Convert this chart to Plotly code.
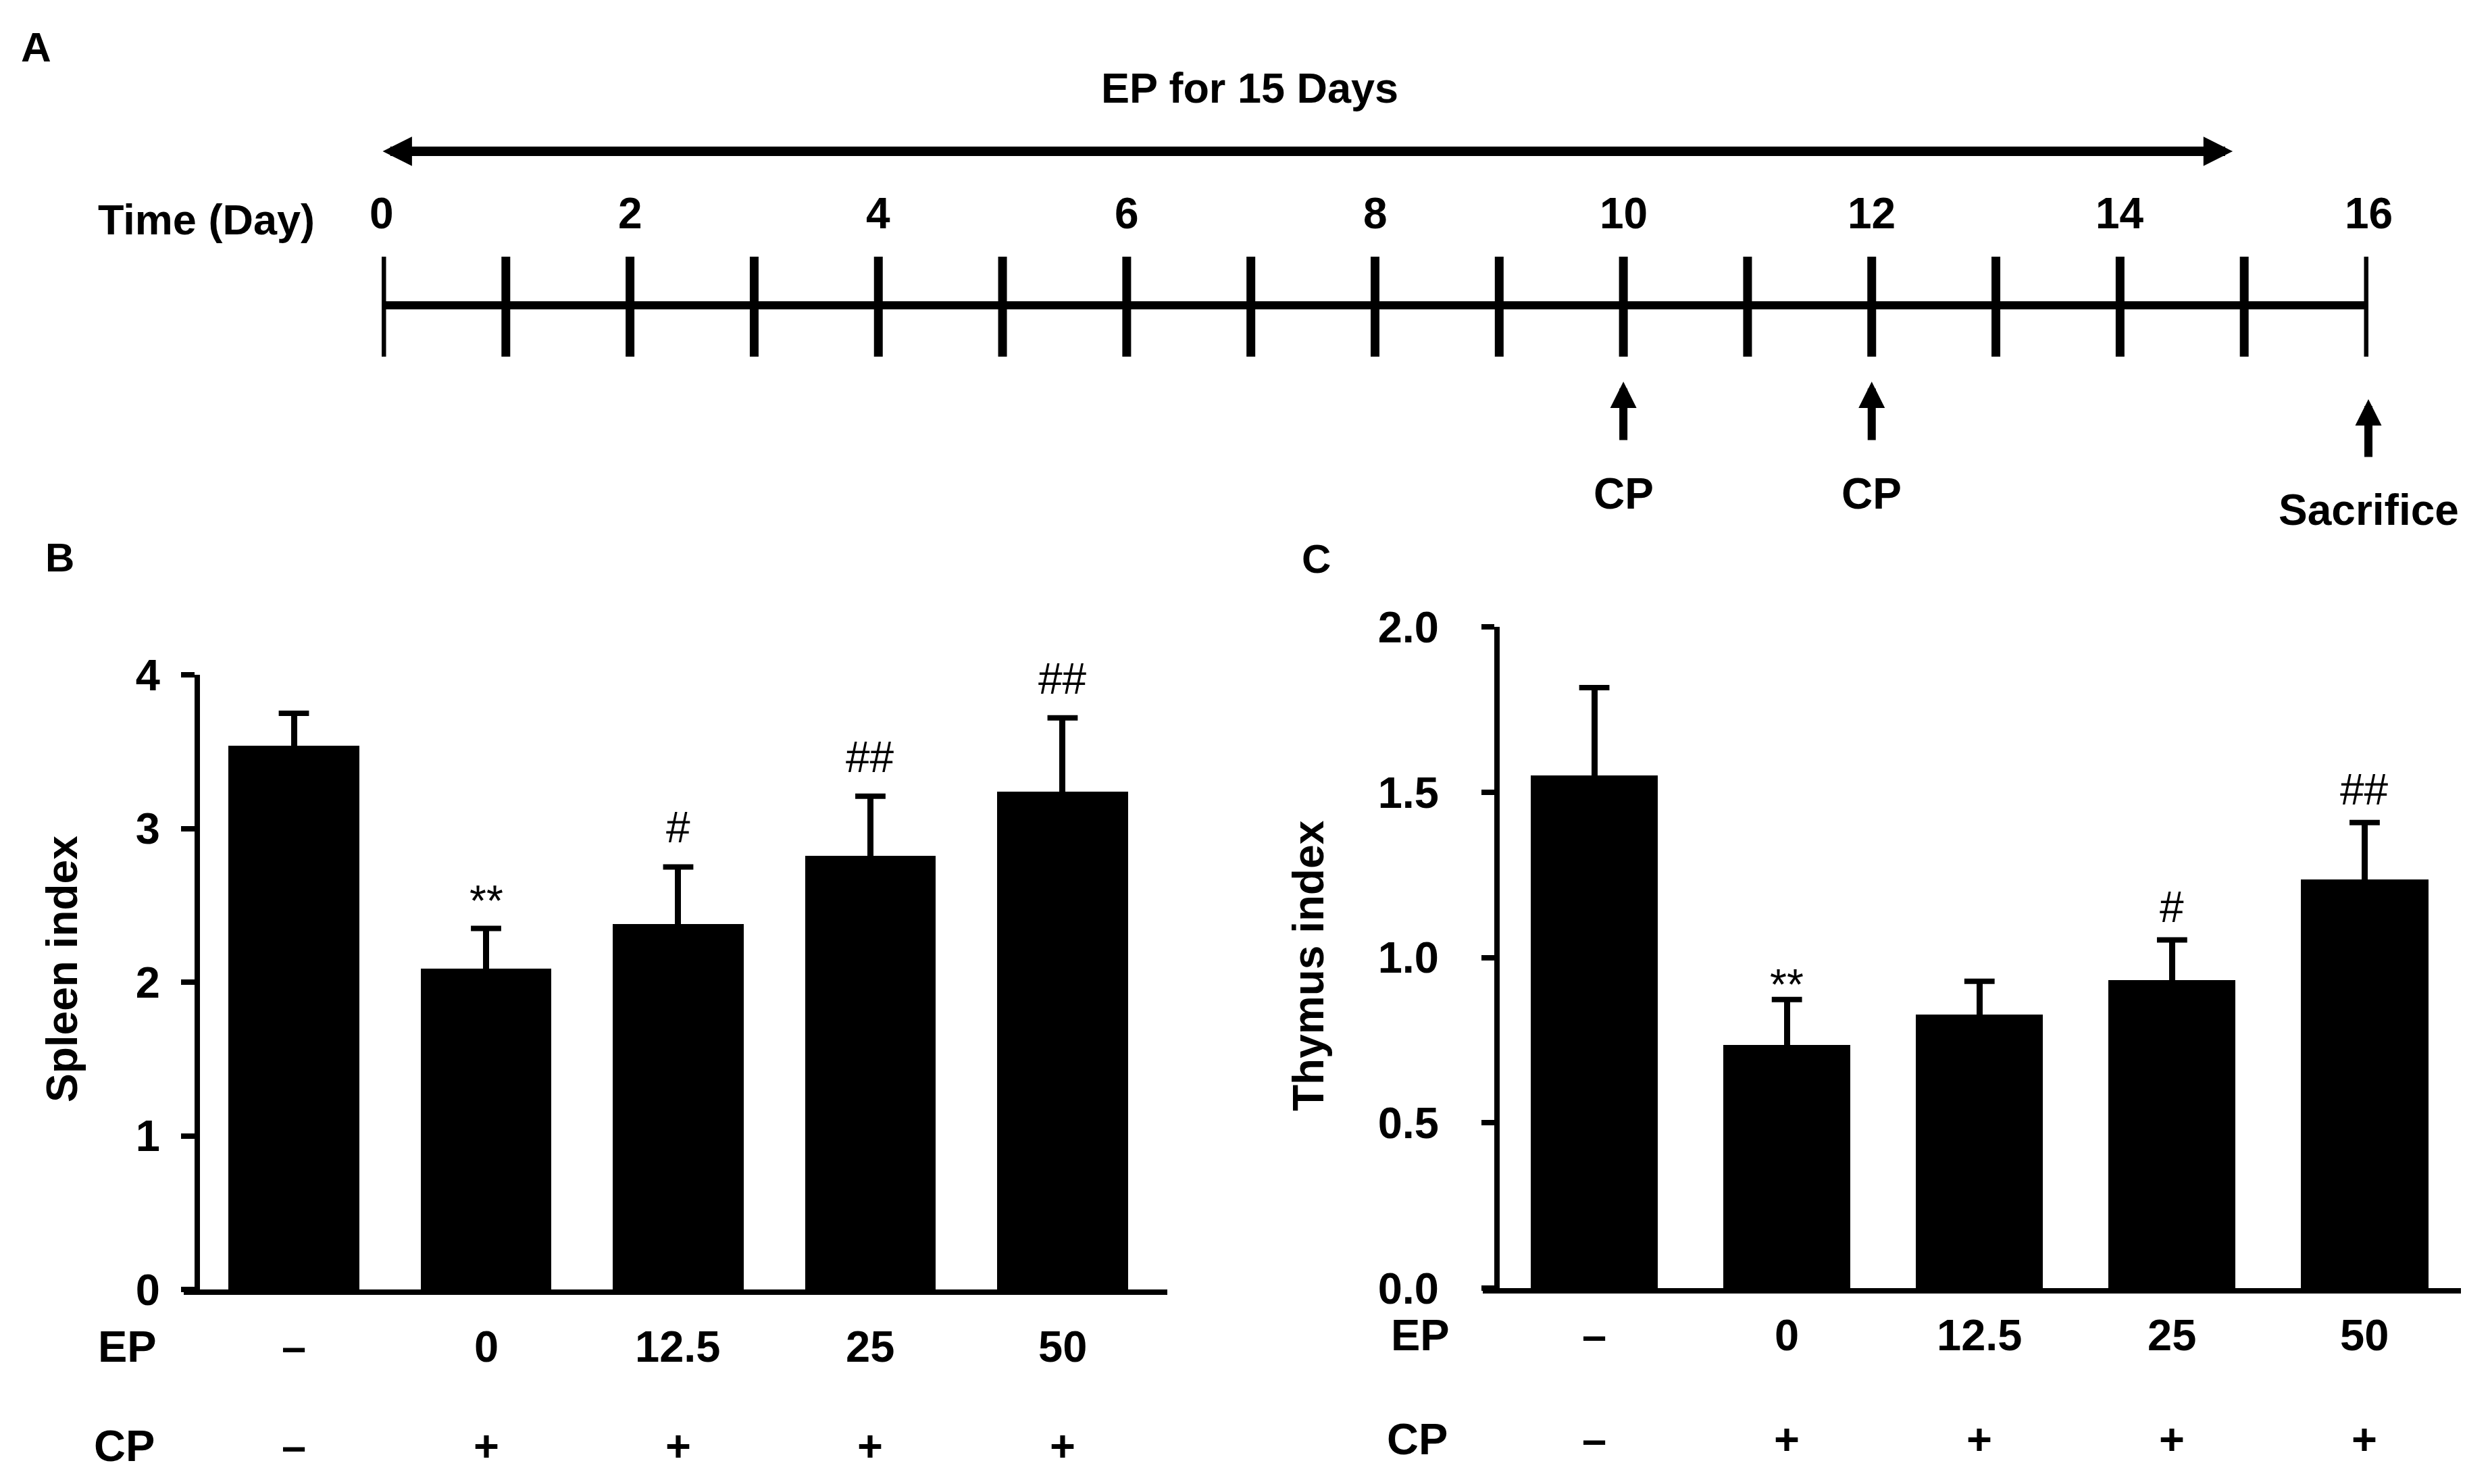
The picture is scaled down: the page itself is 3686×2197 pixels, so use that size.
import plotly.graph_objects as go

# ---------------- data ----------------
ep_doses = ["–", "0", "12.5", "25", "50"]
cp_given = ["–", "+", "+", "+", "+"]
spleen_mean = [3.54, 2.09, 2.38, 2.82, 3.24]
spleen_err = [0.21, 0.26, 0.37, 0.39, 0.48]
spleen_sig = ["", "**", "#", "##", "##"]
thymus_mean = [1.55, 0.735, 0.827, 0.932, 1.235]
thymus_err = [0.266, 0.138, 0.101, 0.121, 0.173]
thymus_sig = ["", "**", "", "#", "##"]
spleen_ticks = [0, 1, 2, 3, 4]
thymus_ticks = [0.0, 0.5, 1.0, 1.5, 2.0]
thymus_ticktext = ["0.0", "0.5", "1.0", "1.5", "2.0"]

days = list(range(17))
day_labels = [0, 2, 4, 6, 8, 10, 12, 14, 16]
ep_period = [0, 15]
cp_days = [10, 12]
sacrifice_day = 16

# ---------------- layout helpers ----------------
W, H = 3686, 2197
FONT = "Liberation Sans, Arial, sans-serif"


def px(p):
    return p / W


def py(p):
    return 1 - p / H


idx = list(range(len(ep_doses)))
fig = go.Figure()

# ---------------- panel A: timeline ----------------
fig.add_trace(go.Scatter(x=[days[0], days[-1]], y=[452, 452], mode="lines",
                         line=dict(color="black", width=12),
                         xaxis="x3", yaxis="y3", hoverinfo="skip", showlegend=False))
tx, ty = [], []
for d in days:
    tx += [d, d, None]
    ty += [380, 528, None]
fig.add_trace(go.Scatter(x=tx, y=ty, mode="lines", line=dict(color="black", width=13),
                         xaxis="x3", yaxis="y3", hoverinfo="skip", showlegend=False))


# ---------------- panels B, C: bars ----------------
def bar_panel(mean, err, width, xa, ya):
    fig.add_trace(go.Bar(x=idx, y=mean, width=width,
                         marker=dict(color="black", line=dict(width=0)),
                         error_y=dict(type="data", array=err, arrayminus=[0] * len(err),
                                      symmetric=False, thickness=9, width=0, color="black"),
                         xaxis=xa, yaxis=ya, showlegend=False, hoverinfo="skip"))
    tops = [m + e for m, e in zip(mean, err)]
    fig.add_trace(go.Scatter(x=idx, y=tops, mode="markers",
                             marker=dict(symbol="line-ew", size=32,
                                         line=dict(width=8, color="black"), color="black"),
                             xaxis=xa, yaxis=ya, showlegend=False, hoverinfo="skip",
                             cliponaxis=False))


bar_panel(spleen_mean, spleen_err, 0.68, "x", "y")
bar_panel(thymus_mean, thymus_err, 0.66, "x2", "y2")

bold = dict(family=FONT, size=63, color="black", weight="bold")
bold66 = dict(bold, size=65)
ann = []


def text(t, x, y, xref="paper", yref="paper", font=bold, **kw):
    d = dict(text=t, x=x, y=y, xref=xref, yref=yref, showarrow=False, font=font,
             xanchor="center", yanchor="middle")
    d.update(kw)
    ann.append(d)


# Panel labels
text("A", px(53), py(69), font=dict(bold, size=62))
text("B", px(88), py(825), font=dict(bold, size=60))
text("C", px(1948), py(827), font=dict(bold, size=60))

# Timeline text
text("EP for 15 Days", px(1850), py(130))
text("Time (Day)", px(305), py(325))
for d in day_labels:
    text(str(d), d, 316, xref="x3", yref="y3", font=dict(bold, size=64))

# EP double arrow
ann.append(dict(x=ep_period[1], y=224, ax=ep_period[0], ay=224, xref="x3", yref="y3",
                axref="x3", ayref="y3", text="", showarrow=True, arrowside="end+start",
                arrowhead=2, startarrowhead=2, arrowwidth=14, arrowsize=0.62,
                startarrowsize=0.62, arrowcolor="black", standoff=17, startstandoff=0))
# CP arrows
for d in cp_days:
    ann.append(dict(x=d, y=565, ax=d, ay=653, xref="x3", yref="y3", axref="x3", ayref="y3",
                    text="", showarrow=True, arrowhead=2, arrowwidth=12, arrowsize=0.65,
                    arrowcolor="black"))
    text("CP", d, 731, xref="x3", yref="y3", font=dict(bold, size=64))
ann.append(dict(x=sacrifice_day, y=591, ax=sacrifice_day, ay=678, xref="x3", yref="y3",
                axref="x3", ayref="y3", text="", showarrow=True, arrowhead=2, arrowwidth=12,
                arrowsize=0.65, arrowcolor="black"))
text("Sacrifice", sacrifice_day, 755, xref="x3", yref="y3", font=dict(bold, size=64))

# Y titles
text("Spleen index", px(92), py(1435), textangle=-90, font=dict(bold, size=64))
text("Thymus index", px(1937), py(1430), textangle=-90, font=dict(bold, size=64))

# EP / CP rows
text("EP", px(188), py(1993), font=bold66)
text("CP", px(184), py(2140), font=bold66)
text("EP", px(2102), py(1976), font=bold66)
text("CP", px(2098), py(2130), font=bold66)
for i in idx:
    text(ep_doses[i], i, py(1993), xref="x", font=bold66)
    text(cp_given[i], i, py(2140), xref="x", font=bold66)
    text(ep_doses[i], i, py(1976), xref="x2", font=bold66)
    text(cp_given[i], i, py(2130), xref="x2", font=bold66)

# significance marks
sigfont = dict(family=FONT, size=64, color="black")
shiftB = {"**": 40, "#": 58, "##": 58}
shiftC = {"**": 22, "#": 49, "##": 49}
for i in idx:
    if spleen_sig[i]:
        text(spleen_sig[i], i, spleen_mean[i] + spleen_err[i], xref="x", yref="y",
             font=sigfont, yshift=shiftB[spleen_sig[i]])
    if thymus_sig[i]:
        text(thymus_sig[i], i, thymus_mean[i] + thymus_err[i], xref="x2", yref="y2",
             font=sigfont, yshift=shiftC[thymus_sig[i]])

tickfont = dict(family=FONT, size=65, color="black", weight="bold")

fig.update_layout(
    width=W, height=H, margin=dict(l=0, r=0, t=0, b=0, autoexpand=False),
    paper_bgcolor="white", plot_bgcolor="white",
    font=dict(family=FONT, color="black"),
    bargap=0, annotations=ann,
    xaxis=dict(domain=[px(272), px(1728)], range=[-0.573, 4.545], showline=True, linewidth=8,
               linecolor="black", showticklabels=False, ticks="", showgrid=False, zeroline=False,
               anchor="y", automargin=False),
    yaxis=dict(domain=[py(1909), py(999)], range=[0, 4], tickvals=spleen_ticks, showline=True,
               linewidth=8, linecolor="black", ticks="outside", ticklen=20, tickwidth=8,
               tickcolor="black", tickfont=tickfont, showgrid=False, zeroline=False,
               anchor="free", position=px(292), ticklabelstandoff=18, automargin=False),
    xaxis2=dict(domain=[px(2195), px(3643)], range=[-0.579, 4.50], showline=True, linewidth=8,
                linecolor="black", showticklabels=False, ticks="", showgrid=False, zeroline=False,
                anchor="y2", automargin=False),
    yaxis2=dict(domain=[py(1907), py(928)], range=[0, 2], tickvals=thymus_ticks,
                ticktext=thymus_ticktext, showline=True, linewidth=8, linecolor="black",
                ticks="outside", ticklen=19, tickwidth=8, tickcolor="black", tickfont=tickfont,
                showgrid=False, zeroline=False, anchor="free", position=px(2216),
                ticklabelstandoff=50, automargin=False),
    xaxis3=dict(domain=[px(565), px(3506)], range=[0, 16], visible=False, anchor="y3",
                automargin=False),
    yaxis3=dict(domain=[py(800), py(100)], range=[800, 100], visible=False, anchor="x3",
                automargin=False),
)

fig.write_html("out.html", config={"displayModeBar": False},
               post_script="document.body.style.margin='0';document.body.style.overflow='hidden';")
